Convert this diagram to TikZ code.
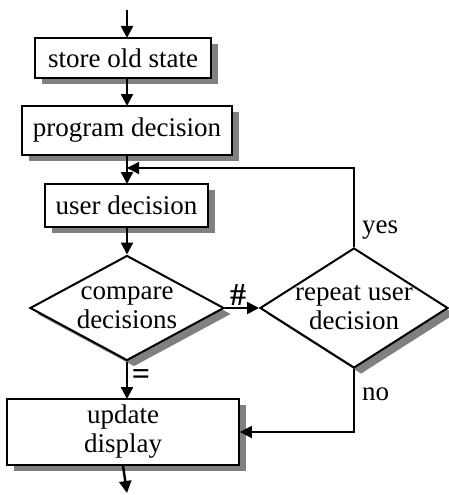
\documentclass[tikz,border=0pt]{standalone}
\usepackage{fontspec}
\setmainfont{Liberation Serif}
\usetikzlibrary{shapes.geometric,shadows,arrows.meta}
\begin{document}
\begin{tikzpicture}[x=1pt,y=1pt,
  font=\fontsize{27}{29}\selectfont,
  shad/.style={drop shadow={shadow xshift=7pt,shadow yshift=-6pt,fill=black!50,opacity=1}},
  boxa/.style={draw=black,fill=white,line width=1.6pt,shad,inner sep=0pt},
  boxb/.style={draw=black,fill=white,line width=2.4pt,shad,inner sep=0pt},
  dia/.style={diamond,draw=black,fill=white,line width=2pt,shad,inner sep=0pt},
  arr/.style={line width=2.4pt,-{Triangle[length=12pt,width=12pt]}},
  thin/.style={line width=1.3pt},
  lbl/.style={inner sep=0pt},
  sym/.style={inner sep=0pt,font=\fontsize{32}{32}\selectfont\bfseries}
]
\useasboundingbox (0,0) rectangle (448,-495);
\coordinate (start) at (127,-10);
\node[boxa,minimum width=176pt,minimum height=40pt] (store) at (123,-58) {store old state};
\node[boxb,minimum width=210pt,minimum height=49pt] (prog) at (127,-130.5) {program decision};
\node[boxb,minimum width=163pt,minimum height=43pt] (user) at (126.5,-205.5) {user decision};
\node[dia,minimum width=194pt,minimum height=105pt] (cmp) at (127,-308) {};
\node[align=center,lbl] at (cmp) {compare\\decisions};
\node[dia,minimum width=188pt,minimum height=120pt] (rep) at (354,-308) {};
\node[align=center,lbl] at (rep) {repeat user\\decision};
\node[boxa,minimum width=232pt,minimum height=66pt,align=center] (upd) at (123,-432) {update\\display};
\coordinate (fb) at (127,-168);
\coordinate (fbr) at (354,-168);
\coordinate (nor) at (354,-432);
\coordinate (end) at (127,-493);

\draw[arr] (start) -- (127,-38);
\draw[arr] (127,-78) -- (127,-106);
\draw[arr] (127,-155) -- (127,-184);
\draw[arr] (127,-227) -- (cmp.north);
\draw[arr] (cmp.east) -- (rep.west);
\node[sym,anchor=south] (hash) at (238,-306) {\#};
\draw[arr] (cmp.south) -- (127,-399);
\node[sym] (eq) at (141,-377) {=};
\draw[thin,-{Triangle[length=12pt,width=12pt]}] (rep.north) -- (fbr) -- (fb);
\node[lbl,anchor=west] (yes) at (362,-230) {yes};
\draw[thin,-{Triangle[length=12pt,width=12pt]}] (rep.south) -- (nor) -- (upd.east);
\node[lbl,anchor=west] (no) at (362,-394) {no};
\draw[arr] (upd.south) -- (end);
\end{tikzpicture}
\end{document}
